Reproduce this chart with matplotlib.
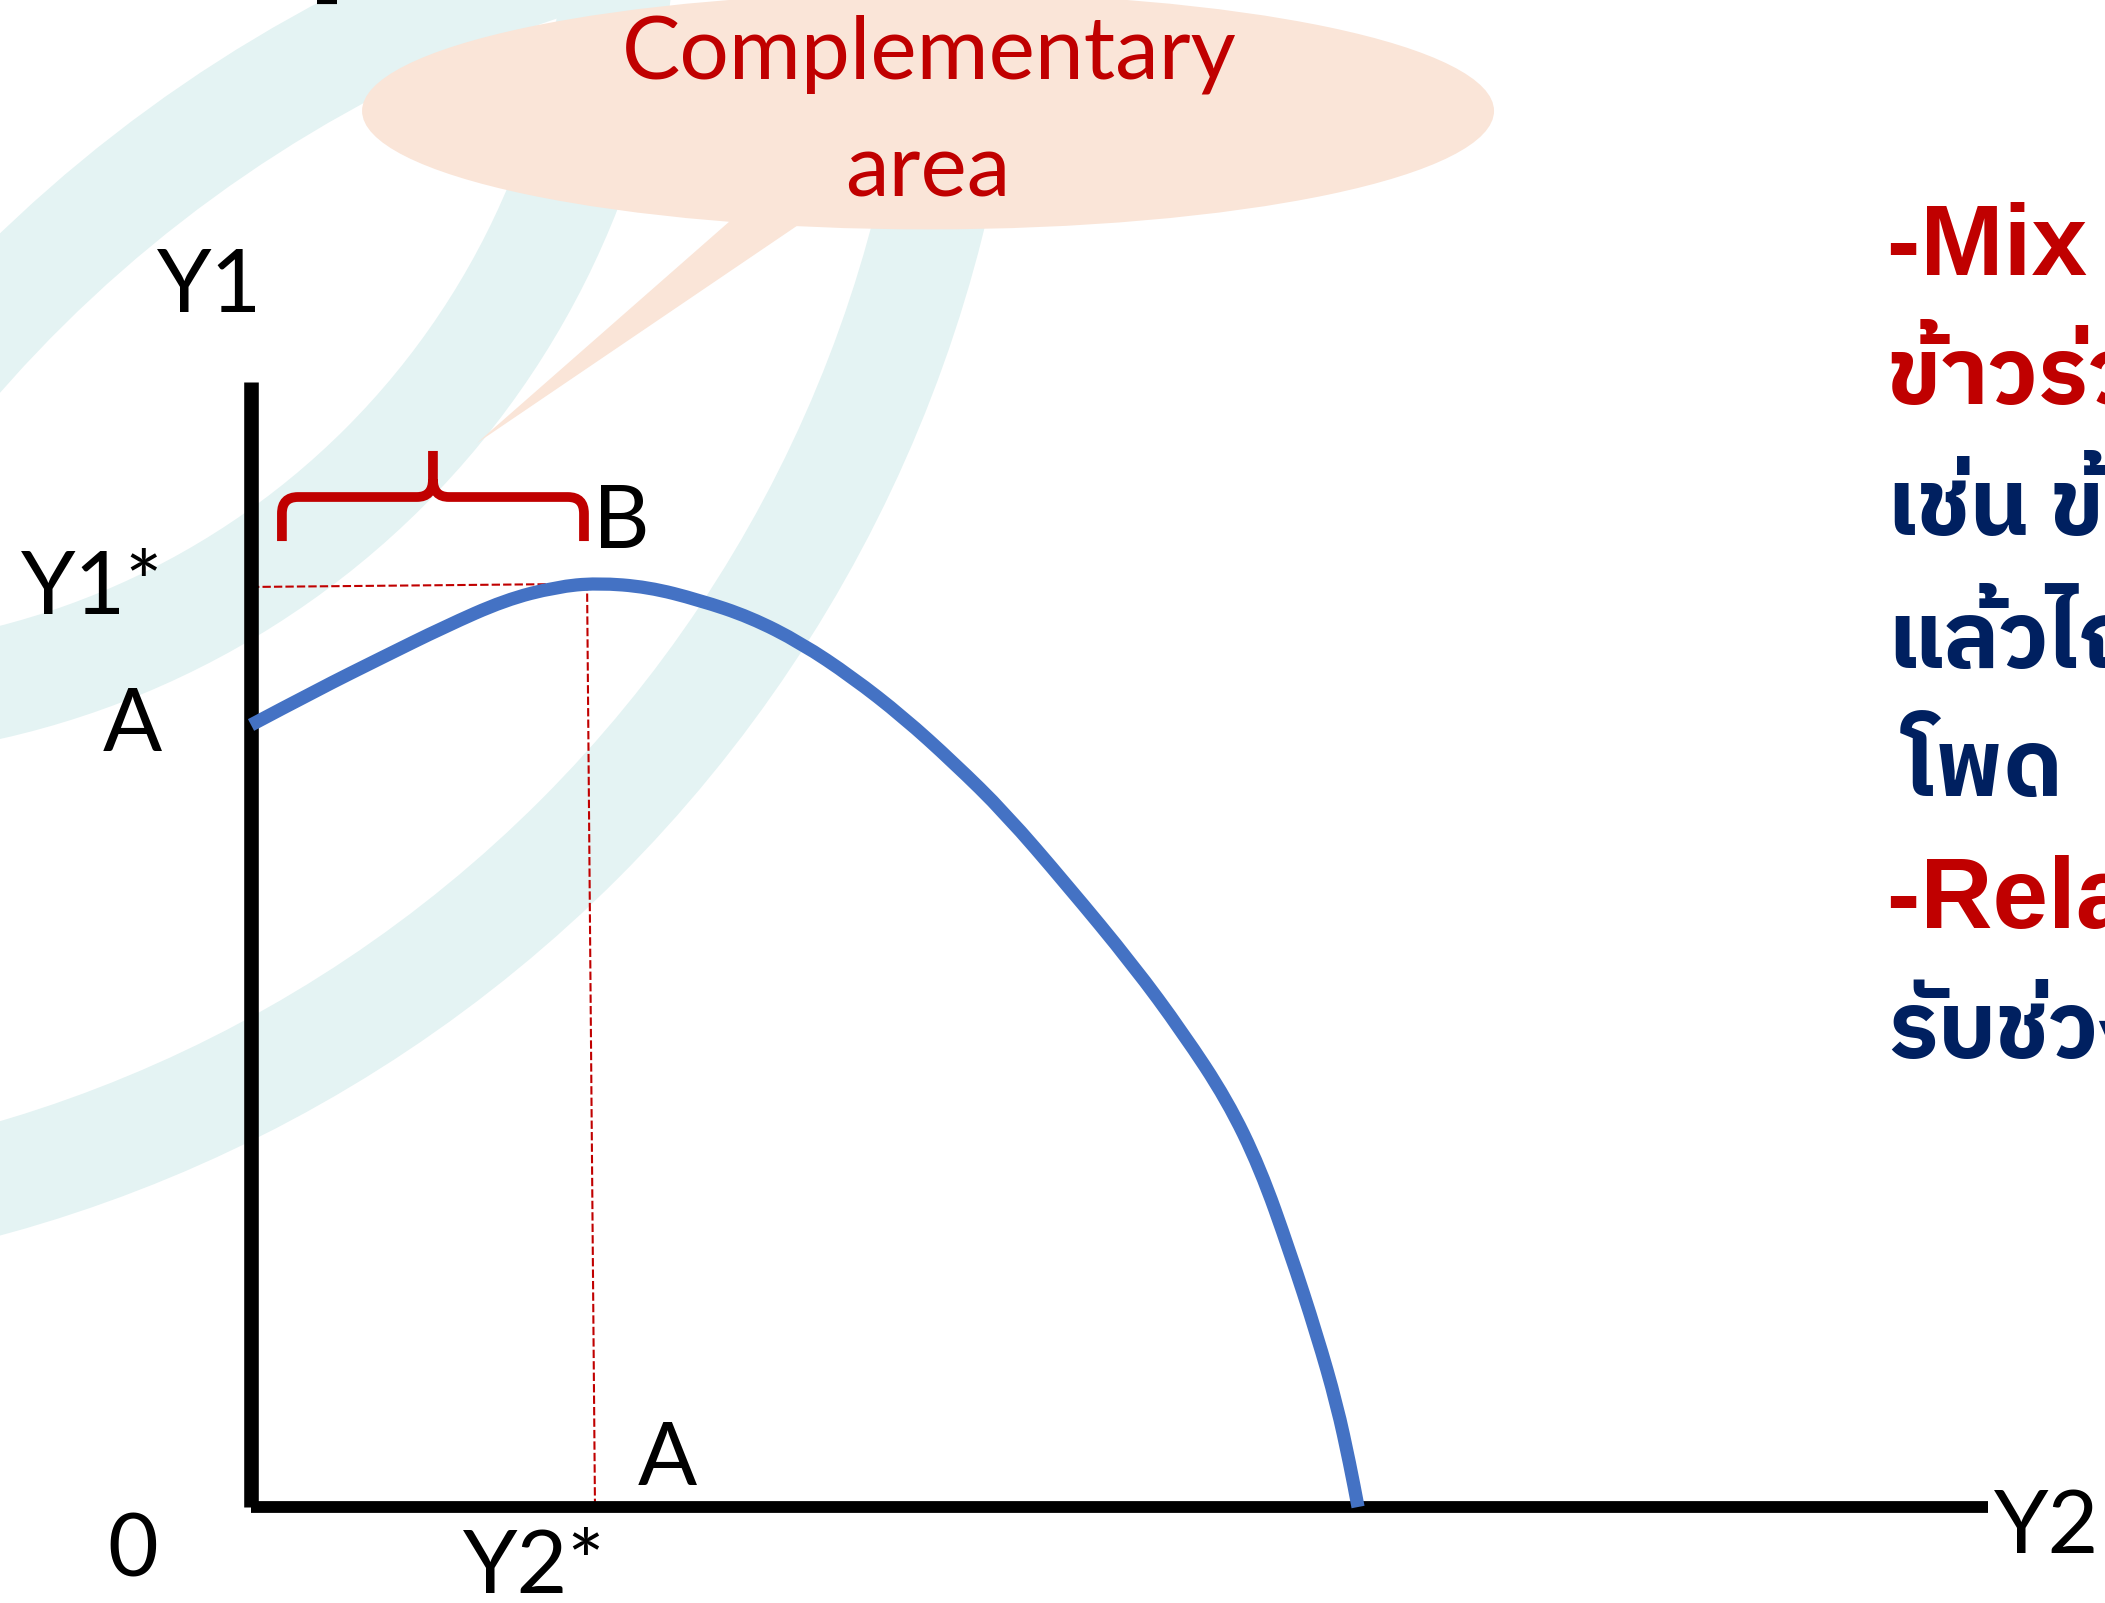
import matplotlib
matplotlib.use("Agg")
import matplotlib.pyplot as plt
from matplotlib import font_manager
from matplotlib.ft2font import FT2Font
from matplotlib.patches import Wedge, Ellipse, Polygon, PathPatch
from matplotlib.path import Path

# --- data: production possibility curve (Y2 on x, Y1 on y) ---
y2_vals = [0.0, 4.92, 9.83, 14.38, 18.92, 22.72, 25.77, 29.57, 33.37, 37.17,
           40.97, 44.77, 48.57, 52.36, 56.16, 60.78, 65.70, 69.42, 72.70,
           75.16, 77.39, 79.40, 80.89, 81.86, 82.46]
y1_vals = [58.25, 60.86, 63.31, 65.55, 67.56, 68.53, 68.83, 68.53, 67.56, 66.29,
           64.36, 61.82, 58.85, 55.42, 51.69, 46.33, 40.37, 35.31, 30.32,
           25.25, 18.99, 12.81, 7.60, 3.13, 0.0]
y1_star = [68.53, 68.75]     # dashed guide, left / right end
y1_star_end = 23.7
y2_star = [25.62, 25.03]     # dashed guide, bottom / top
y1_axis_top = 83.8
y2_axis_end = 129.4
bracket_span = [2.3, 24.8]   # complementary area

RED = "#C00000"
NAVY = "#002060"
BLUE = "#4472C4"
TEAL = "#E4F3F3"
PEACH = "#FAE5D8"


def thai_family():
    fonts = sorted(font_manager.fontManager.ttflist, key=lambda f: "Thai" not in f.name)
    for f in fonts:
        try:
            if 0x0E02 in FT2Font(f.fname).get_charmap():
                return f.name
        except Exception:
            continue
    return "DejaVu Sans"


def smooth_path(xs, ys):
    # quadratic pieces through the midpoints, the read points act as controls
    pts = list(zip(xs, ys))
    verts = [pts[0]]
    codes = [Path.MOVETO]
    for i in range(1, len(pts) - 1):
        mid = ((pts[i][0] + pts[i + 1][0]) / 2, (pts[i][1] + pts[i + 1][1]) / 2)
        verts += [pts[i], mid]
        codes += [Path.CURVE3, Path.CURVE3]
    verts.append(pts[-1])
    codes.append(Path.LINETO)
    return Path(verts, codes)


THAI = thai_family()
LAT = "Lato"

fig = plt.figure(figsize=(21.05, 16.03), dpi=100)
ax = fig.add_axes([0, 0, 1, 1])
ax.set_xlim(-18.70, 138.10)
ax.set_ylim(-7.15, 112.25)
ax.axis("off")

# background swooshes
ax.add_patch(Wedge((54.53, 18.85), 105.55, 90, 200, width=8.2, color=TEAL, lw=0, zorder=0))
ax.add_patch(Wedge((-32.77, 120.15), 64.5, 270, 360, width=8.2, color=TEAL, lw=0, zorder=0))
ax.add_patch(Wedge((-45.59, 119.85), 103.2, 270, 360, width=8.2, color=TEAL, lw=0, zorder=0))

# callout bubble
ax.add_patch(Ellipse((50.43, 103.99), 84.32, 17.65, color=PEACH, lw=0, zorder=1))
ax.add_patch(Polygon([(36.6, 96.6), (42.1, 96.4), (16.83, 79.25)], closed=True,
                     color=PEACH, lw=0, zorder=1))
ax.text(50.5, 106.4, "Complementary", color=RED, fontsize=63, family=LAT,
        ha="center", va="baseline", zorder=3)
ax.text(50.4, 97.6, "area", color=RED, fontsize=63, family=LAT,
        ha="center", va="baseline", zorder=3)

# axes lines
ax.plot([0, 0], [0, y1_axis_top], color="black", lw=10.5, solid_capstyle="butt", zorder=4)
ax.plot([0, y2_axis_end], [0, 0], color="black", lw=8.5, solid_capstyle="butt", zorder=4)

# guides
ax.plot([0, y1_star_end], y1_star, color=RED, lw=1.5, dashes=(4, 1.5), zorder=3)
ax.plot(y2_star, [0, y1_star[1]], color=RED, lw=1.5, dashes=(4, 1.5), zorder=3)

# curve
ax.add_patch(PathPatch(smooth_path(y2_vals, y1_vals), fill=False, edgecolor=BLUE,
                       lw=9.5, joinstyle="round", capstyle="butt", zorder=5))

# brace over the complementary area
xl, xr = bracket_span
xm = (xl + xr) / 2
yb, ybar, ytop = 71.95, 75.23, 78.66
verts = [(xl, yb), (xl, 74.0), (xl, ybar), (xl + 1.2, ybar), (xm - 1.2, ybar),
         (xm, ybar), (xm, ybar + 1.3), (xm, ytop),
         (xr, yb), (xr, 74.0), (xr, ybar), (xr - 1.2, ybar), (xm + 1.2, ybar),
         (xm, ybar), (xm, ybar + 1.3)]
codes = [Path.MOVETO, Path.LINETO, Path.CURVE3, Path.CURVE3, Path.LINETO,
         Path.CURVE3, Path.CURVE3, Path.LINETO,
         Path.MOVETO, Path.LINETO, Path.CURVE3, Path.CURVE3, Path.LINETO,
         Path.CURVE3, Path.CURVE3]
ax.add_patch(PathPatch(Path(verts, codes), fill=False, edgecolor=RED, lw=7,
                       capstyle="butt", zorder=4))

# labels
lab = dict(color="black", fontsize=63, family=LAT, va="baseline", zorder=6)
ax.text(-3.1, 89.0, "Y1", ha="center", **lab)
ax.text(-6.55, 66.5, "Y1*", ha="right", **lab)
ax.text(-6.63, 56.3, "A", ha="right", **lab)
ax.text(25.5, 71.4, "B", ha="left", **lab)
ax.text(-8.8, -5.2, "0", ha="center", **lab)
ax.text(15.8, -6.4, "Y2*", ha="left", **lab)
ax.text(28.8, 1.64, "A", ha="left", **lab)
ax.text(129.8, -3.43, "Y2", ha="left", **lab)

# tiny fragment of a cut title at the top edge
ax.plot([4.9, 6.4], [112.1, 112.1], color="black", lw=3, solid_capstyle="butt")

# side notes (cut by the slide edge)
xs = 121.86
thai = dict(fontsize=67, weight="bold", family=[THAI, "DejaVu Sans"],
            va="baseline", ha="left")
ax.text(xs, 91.77, "-Mix cropping", color=RED, fontsize=72, weight="bold",
        family="Liberation Sans", va="baseline", ha="left")
ax.text(xs, 82.16, "ข้าวร่วมกับ", color=RED, **thai)
ax.text(xs, 72.40, "เช่น ข้าวโพด", color=NAVY, **thai)
ax.text(xs, 62.50, "แล้วไถ", color=NAVY, **thai)
ax.text(xs + 1.3, 52.96, "โพด", color=NAVY, **thai)
ax.text(xs, 43.13, "-Relay cropping", color=RED, fontsize=72, weight="bold",
        family="Liberation Sans", va="baseline", ha="left")
ax.text(xs, 33.44, "รับช่วง", color=NAVY, **thai)

fig.savefig("out.png", dpi=100)
